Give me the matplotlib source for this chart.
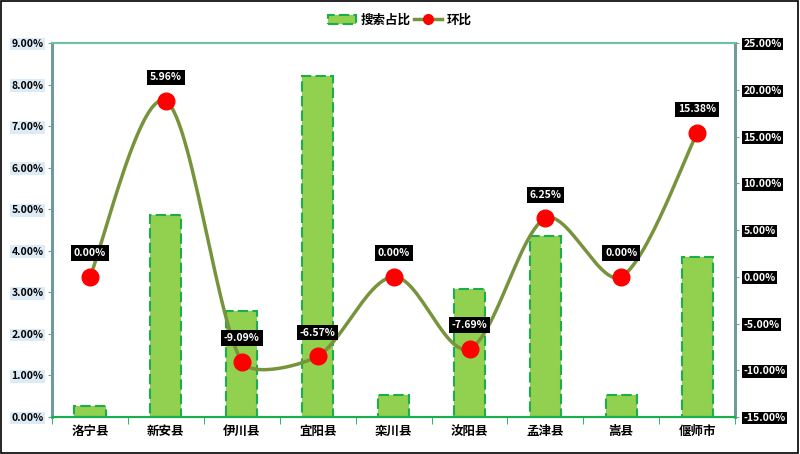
import matplotlib
matplotlib.use('Agg')
import matplotlib.pyplot as plt
import numpy as np
from matplotlib.patches import Rectangle
from matplotlib.lines import Line2D

plt.rcParams['font.family'] = ['Noto Sans CJK SC', 'DejaVu Sans']

counties = ['洛宁县', '新安县', '伊川县', '宜阳县', '栾川县', '汝阳县', '孟津县', '嵩县', '偃师市']
share = [0.26, 4.86, 2.56, 8.20, 0.52, 3.08, 4.36, 0.52, 3.85]          # 搜索占比 (%)
ratio = [0.00, 18.80, -9.09, -8.50, 0.00, -7.69, 6.25, 0.00, 15.38]      # 环比 (%), plotted position
ratio_labels = ['0.00%', '5.96%', '-9.09%', '-6.57%', '0.00%', '-7.69%', '6.25%', '0.00%', '15.38%']

left_ticks = [0, 1, 2, 3, 4, 5, 6, 7, 8, 9]
right_ticks = [-15, -10, -5, 0, 5, 10, 15, 20, 25]

BAR_FILL = '#92D050'
BAR_EDGE = '#1AAF4B'
LINE_C = '#77933C'


def smooth(x, y, sx=76.0, sy=9.35, cap=0.25, n=30):
    # Excel-like smoothed line: Bezier with Catmull-Rom handles, done in
    # screen-ish units, each handle capped relative to its own segment length
    P = np.column_stack([np.asarray(x, float) * sx, np.asarray(y, float) * sy])
    m = len(P)
    out = []
    t = np.linspace(0, 1, n)[:, None]
    for i in range(m - 1):
        p0, p3 = P[i], P[i + 1]
        seg = np.linalg.norm(p3 - p0)
        Ta = (P[min(i + 1, m - 1)] - P[max(i - 1, 0)]) / 6.0
        Tb = (P[min(i + 2, m - 1)] - P[i]) / 6.0
        for T in (Ta, Tb):
            L = np.linalg.norm(T)
            if L > cap * seg:
                T *= cap * seg / L
        p1 = p0 + Ta
        p2 = p3 - Tb
        out.append((1 - t) ** 3 * p0 + 3 * (1 - t) ** 2 * t * p1 + 3 * (1 - t) * t ** 2 * p2 + t ** 3 * p3)
    out = np.vstack(out)
    return out[:, 0] / sx, out[:, 1] / sy


fig = plt.figure(figsize=(8, 4.54), dpi=100)
ax = fig.add_axes([0.065, 0.0815, 0.854, 0.8235])
x = np.arange(len(counties))

ax.bar(x, share, width=0.41, color=BAR_FILL, edgecolor=BAR_EDGE,
       linewidth=1.5, linestyle=(0, (5, 2)), zorder=2)
ax.set_xlim(-0.5, len(counties) - 0.5)
ax.set_ylim(0, 9)
ax.set_yticks(left_ticks)
lbls = ax.set_yticklabels(['%.2f%%' % v for v in left_ticks], fontsize=7.5, fontweight='bold')
for t in lbls:
    t.set_bbox(dict(facecolor='#DDEBF7', edgecolor='none', pad=1))
ax.set_xticks(x)
ax.set_xticklabels(counties, fontsize=9, fontweight='bold')
ax.set_xticks(np.arange(-0.5, len(counties), 1), minor=True)
ax.tick_params(axis='x', which='major', length=0, pad=6)
ax.tick_params(axis='x', which='minor', length=5, color='#00B050')
ax.tick_params(axis='y', length=3, color='#7F9F9F', pad=3)

ax2 = ax.twinx()
cx, cy = smooth(x, ratio)
ax2.plot(cx, cy, color=LINE_C, linewidth=2.5, zorder=3)
ax2.plot(x, ratio, 'o', color='red', markersize=12, zorder=4)
ax2.set_ylim(-15, 25)
ax2.set_yticks(right_ticks)
rl = ax2.set_yticklabels(['%.2f%%' % v for v in right_ticks], fontsize=7.5,
                         fontweight='bold', color='white')
for t in rl:
    t.set_bbox(dict(facecolor='black', edgecolor='none', pad=1))
ax2.tick_params(axis='y', length=3, color='#7F9F9F', pad=3)

for xi, yi, lab in zip(x, ratio, ratio_labels):
    ax2.annotate(lab, (xi, yi), xytext=(0, 17), textcoords='offset points',
                 ha='center', va='center', fontsize=7.5, fontweight='bold', color='white',
                 bbox=dict(facecolor='black', edgecolor='none', pad=2), zorder=5)

for a in (ax, ax2):
    a.spines['top'].set_color('#6CC1A0')
    a.spines['top'].set_linewidth(1.5)
    a.spines['bottom'].set_color('#1AAF4B')
    a.spines['bottom'].set_linewidth(1.5)
    for s in ('left', 'right'):
        a.spines[s].set_color('#6F9A9A')
        a.spines[s].set_linestyle((0, (1, 1)))
        a.spines[s].set_linewidth(2)

handles = [
    Rectangle((0, 0), 1, 1, facecolor=BAR_FILL, edgecolor=BAR_EDGE, linewidth=1.5, linestyle=(0, (5, 2))),
    Line2D([], [], color=LINE_C, linewidth=2.5, marker='o', markerfacecolor='red',
           markeredgecolor='red', markersize=7),
]
leg = fig.legend(handles, ['搜索占比', '环比'], loc='upper center', bbox_to_anchor=(0.5, 0.995),
                 ncol=2, frameon=False, handlelength=2.2, handletextpad=0.4, columnspacing=0.3,
                 prop={'weight': 'bold', 'size': 9})

fig.patches.append(Rectangle((0.001, 0.003), 0.996, 0.995, transform=fig.transFigure,
                             fill=False, edgecolor='black', linewidth=1.2))

plt.savefig('out.png', dpi=100)
